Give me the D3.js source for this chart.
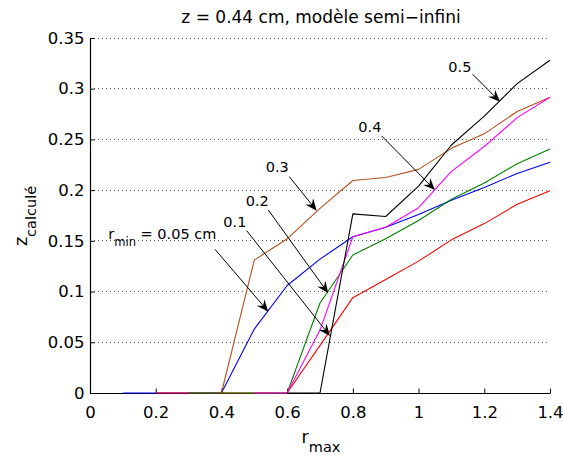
<!DOCTYPE html>
<html><head><meta charset="utf-8">
<script src="https://cdn.jsdelivr.net/npm/d3@7"></script>
<style>body{margin:0;background:#fff}svg{display:block}</style>
</head><body>
<svg id="c" width="563" height="456"></svg>
<script>
// ---- data ----
const xRmax = [0.1,0.2,0.3,0.4,0.5,0.6,0.7,0.8,0.9,1.0,1.1,1.2,1.3,1.4];
const zBlue    = [0,0,0,0,0.063,0.106,0.132,0.154,0.1635,0.176,0.190,0.2025,0.2165,0.2275];        // rmin 0.05
const zRed     = [null,0,0,0,0,0,0.047,0.094,0.112,0.130,0.151,0.167,0.186,0.1995];                 // rmin 0.1
const zGreen   = [null,null,0,0,0,0,0.0887,0.136,0.152,0.170,0.191,0.207,0.226,0.2405];             // rmin 0.2
const zBrown   = [null,null,null,0,0.131,0.152,0.182,0.2095,0.2125,0.2205,0.2412,0.2555,0.2775,0.2916]; // rmin 0.3
const zMagenta = [null,null,null,null,0,0,0.062,0.154,0.1635,0.1827,0.2185,0.243,0.2715,0.2916];    // rmin 0.4
const zBlack   = [null,null,null,null,null,0,0,0.1766,0.174,0.204,0.2445,0.273,0.305,0.328];        // rmin 0.5
const seriesNames = ["0.05","0.1","0.2","0.3","0.4","0.5"];
const xTicks = [0,0.2,0.4,0.6,0.8,1,1.2,1.4];
const yTicks = [0,0.05,0.1,0.15,0.2,0.25,0.3,0.35];
const titleText = "z = 0.44 cm, modèle semi\u2212infini";

// ---- layout ----
const svg = d3.select("#c");
svg.append("rect").attr("width",563).attr("height",456).attr("fill","#fff");
const x = d3.scaleLinear().domain([0,1.4]).range([90,550]);
const y = d3.scaleLinear().domain([0,0.35]).range([393,38]);
const FONT = "DejaVu Sans";

// grid (horizontal only)
svg.append("g").selectAll("line").data(yTicks.filter(d=>d>0)).join("line")
  .attr("x1",x(0)).attr("x2",x(1.4)).attr("y1",d=>y(d)).attr("y2",d=>y(d))
  .attr("stroke","#555").attr("stroke-width",1).attr("stroke-dasharray","1,3")
  .attr("shape-rendering","crispEdges");

// axes
const fmt = d3.format("~g");
const gx = svg.append("g").attr("transform",`translate(0,${y(0)})`)
  .call(d3.axisBottom(x).tickValues(xTicks).tickFormat(fmt).tickSizeInner(-4.5).tickSizeOuter(0).tickPadding(13.5));
const gy = svg.append("g").attr("transform",`translate(${x(0)},0)`)
  .call(d3.axisLeft(y).tickValues(yTicks).tickFormat(fmt).tickSizeInner(-4.5).tickSizeOuter(0).tickPadding(5.5));
[gx,gy].forEach(g=>{
  g.attr("font-family",FONT).attr("font-size",16.5);
  g.selectAll("text").attr("fill","#000");
  g.selectAll("line").attr("stroke","#000");
  g.select(".domain").attr("stroke","#000").attr("stroke-width",1.2);
});

// lines
const seriesData = [zBlue,zRed,zGreen,zBrown,zMagenta,zBlack];
const colors = ["#0000ff","#ff0000","#008000","#b4501e","#ff00ff","#000000"];
const line = d3.line().defined(d=>d[1]!=null).x(d=>x(d[0])).y(d=>y(d[1]));
svg.append("g").selectAll("path").data(seriesData).join("path")
  .attr("d",s=>line(xRmax.map((v,i)=>[v,s[i]])))
  .attr("fill","none").attr("stroke",(d,i)=>colors[i]).attr("stroke-width",1.1)
  .attr("stroke-linejoin","round");

// title
svg.append("text").attr("x",321).attr("y",23).attr("text-anchor","middle")
  .attr("font-family",FONT).attr("font-size",17).text(titleText);

// x label
const xl = svg.append("text").attr("x",321).attr("y",443).attr("text-anchor","middle")
  .attr("font-family",FONT).attr("font-size",17.5);
xl.append("tspan").text("r");
xl.append("tspan").attr("dy",8.5).attr("font-size",14.5).text("max");

// y label
const yl = svg.append("text").attr("transform","translate(27,216) rotate(-90)")
  .attr("text-anchor","middle").attr("font-family",FONT).attr("font-size",17.5);
yl.append("tspan").text("z");
yl.append("tspan").attr("dy",9).attr("font-size",14.5).text("calculé");

// annotations (data coordinates: text anchor, arrow tail, arrow head)
const annText = [[1.0905,0.3167],[0.8166,0.2576],[0.5347,0.2176],[0.4739,0.1844],[0.4057,0.1634],[0.0557,0.1521]];
const annTail = [[1.1647,0.3142],[0.8878,0.2534],[0.6066,0.2133],[0.5427,0.1804],[0.4769,0.1600],[0.3804,0.1417]];
const annHead = [[1.2478,0.2872],[1.0500,0.2001],[0.6900,0.1797],[0.7253,0.0983],[0.7304,0.0562],[0.5427,0.0802]];
const annLabels = ["0.5","0.4","0.3","0.2","0.1",null];

const ga = svg.append("g");
annTail.forEach((t,i)=>{
  const x1=x(t[0]), y1=y(t[1]), x2=x(annHead[i][0]), y2=y(annHead[i][1]);
  const ang = Math.atan2(y2-y1,x2-x1);
  const L=12, W=5;
  ga.append("line").attr("x1",x1).attr("y1",y1)
    .attr("x2",x2-Math.cos(ang)*6).attr("y2",y2-Math.sin(ang)*6)
    .attr("stroke","#000").attr("stroke-width",1);
  const pts=[[0,0],[-L,-W],[-0.65*L,0],[-L,W]].map(([a,b])=>[
    x2 + a*Math.cos(ang) - b*Math.sin(ang),
    y2 + a*Math.sin(ang) + b*Math.cos(ang)]);
  ga.append("path").attr("d","M"+pts.map(p=>p.join(",")).join("L")+"Z").attr("fill","#000");
});
annText.forEach((p,i)=>{
  const t = ga.append("text").attr("x",x(p[0])).attr("y",y(p[1]))
    .attr("font-family",FONT).attr("font-size",14.5);
  if(annLabels[i]!==null){ t.text(annLabels[i]); }
  else {
    t.append("tspan").text("r");
    t.append("tspan").attr("dy",7.5).attr("font-size",11.5).text("min");
    t.append("tspan").attr("dy",-7.5).text(" = " + seriesNames[0] + " cm");
  }
});
</script>
</body></html>
